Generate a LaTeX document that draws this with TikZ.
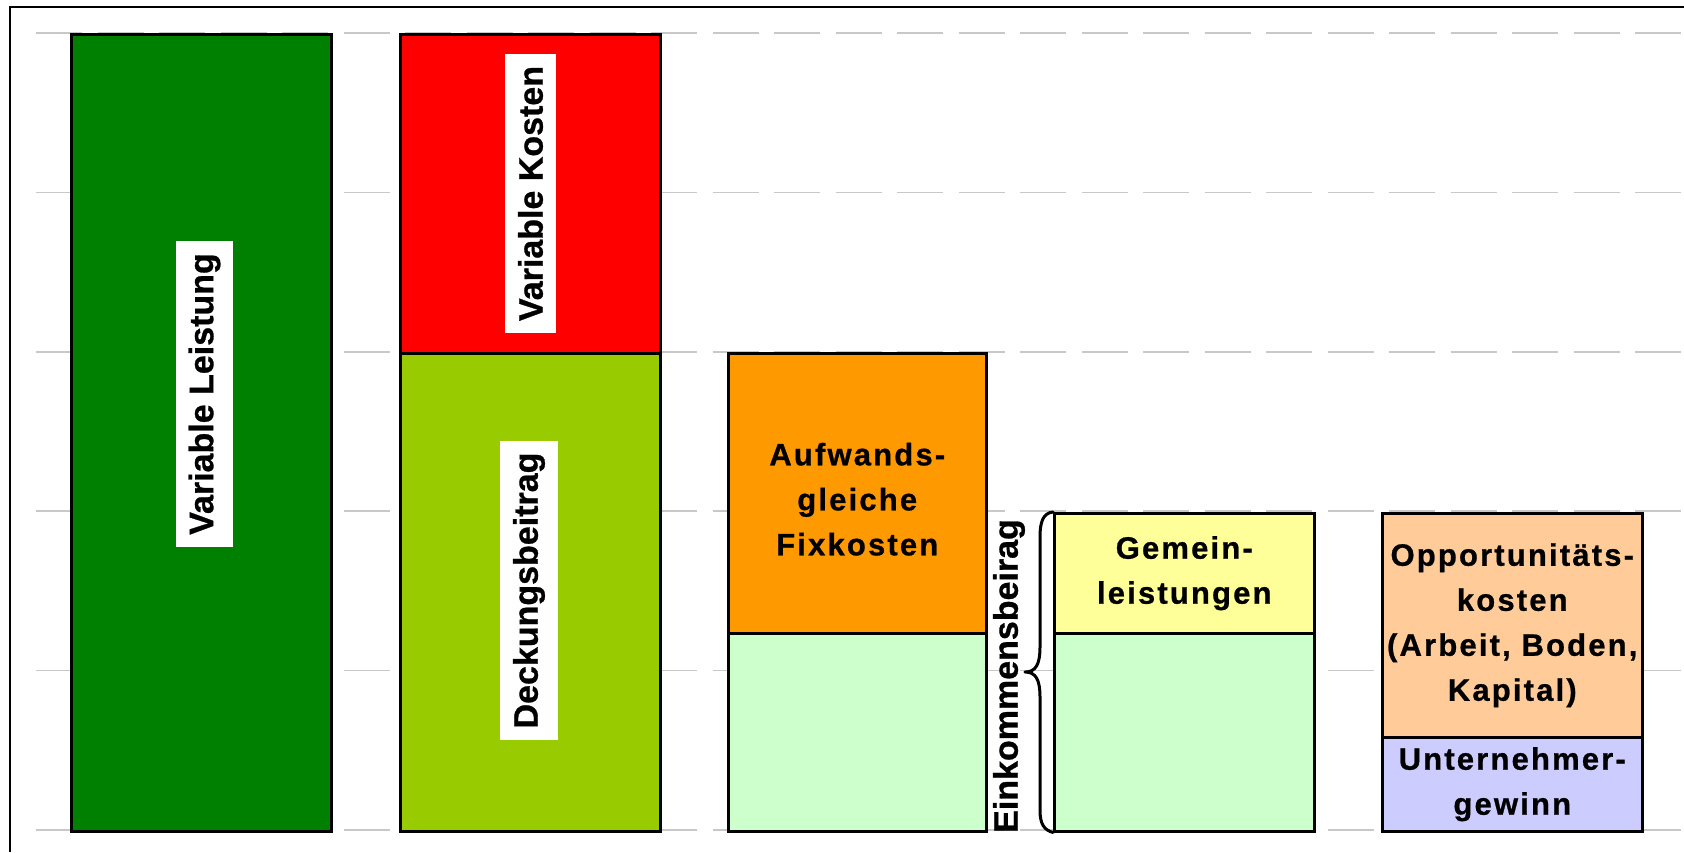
\documentclass[tikz,border=0pt]{standalone}
\usepackage{fontspec}
\setmainfont{Liberation Sans}[BoldFeatures={FakeBold=0.8}]
\newfontfamily\hfont{Liberation Sans}[LetterSpace=7,BoldFeatures={FakeBold=0.8}]
\definecolor{vgreen}{HTML}{008000}
\definecolor{vred}{HTML}{FF0000}
\definecolor{ygreen}{HTML}{99CC00}
\definecolor{orangeC}{HTML}{FF9900}
\definecolor{lgreen}{HTML}{CCFFCC}
\definecolor{lyellow}{HTML}{FFFF99}
\definecolor{peach}{HTML}{FFCC99}
\definecolor{lavender}{HTML}{CCCCFF}
\definecolor{gridgray}{HTML}{C8C8C8}
\begin{document}
\begin{tikzpicture}[x=1pt,y=-1pt,
  gridline/.style={draw=gridgray, line width=1.5pt, dash pattern=on 46pt off 15.5pt},
  part/.style={draw=black, line width=2.5pt, anchor=north west, inner sep=0pt, minimum width=260pt, align=center, font=\hfont\bfseries\fontsize{31}{45}\selectfont},
  htext/.style={inner sep=0pt, align=center, font=\hfont\bfseries\fontsize{31}{45}\selectfont},
  vlabel/.style={fill=white, rotate=90, inner xsep=12pt, inner ysep=13pt, font=\bfseries\fontsize{34}{40}\selectfont},
  bracestyle/.style={draw=black, line width=3pt, line join=round, line cap=round},
]
\useasboundingbox (0,0) rectangle (1684,852);
\fill[white] (0,0) rectangle (1684,852);
\draw[line width=2pt] (10,852) -- (10,6.5) -- (1684,6.5);
\foreach \y in {33,192.4,351.8,511.2,670.6,830} \draw[gridline] (36,\y) -- (1684,\y);

\node[part, fill=vgreen, minimum height=797pt] (vl) at (70,33) {};
\node[part, fill=vred, minimum height=319pt] (vk) at (399,33) {};
\node[part, fill=ygreen, minimum height=478pt] (db) at (399,352) {};
\node[part, fill=orangeC, minimum height=280pt, minimum width=258pt] (fix) at (727,352) {};
\node[part, fill=lgreen, minimum height=198pt, minimum width=258pt] (ek1) at (727,632) {};
\node[part, fill=lyellow, minimum height=120pt] (gl) at (1053,512) {Gemein-\\leistungen};
\node[part, fill=lgreen, minimum height=198pt] (ek2) at (1053,632) {};
\node[part, fill=peach, minimum height=224pt] (opp) at (1381,512) {Opportunitäts-\\kosten\\(Arbeit, Boden,\\Kapital)};
\node[part, fill=lavender, minimum height=94pt] (ug) at (1381,736) {Unternehmer-\\gewinn};

\node[htext] (fixt) at ([yshift=-6pt]fix.center) {Aufwands-\\gleiche\\Fixkosten};

\node[vlabel] (vlt) at (204.5,394) {Variable Leistung};
\node[vlabel] (vkt) at (530.5,193.5) {Variable Kosten};
\node[vlabel] (dbt) at (529,590.5) {Deckungsbeitrag};

\node[rotate=90, inner sep=0pt, font=\bfseries\fontsize{34}{40}\selectfont] (ekt) at (1009,676) {Einkommensbeirag};

\draw[bracestyle] (gl.north west) .. controls (1043,513) and (1040,522) .. (1040,537) -- (1040,647)
  .. controls (1040,664) and (1036,672) .. (1025,672)
  .. controls (1036,672) and (1040,680) .. (1040,697) -- (1040,810)
  .. controls (1040,824) and (1044,830) .. (ek2.south west);
\end{tikzpicture}
\end{document}
